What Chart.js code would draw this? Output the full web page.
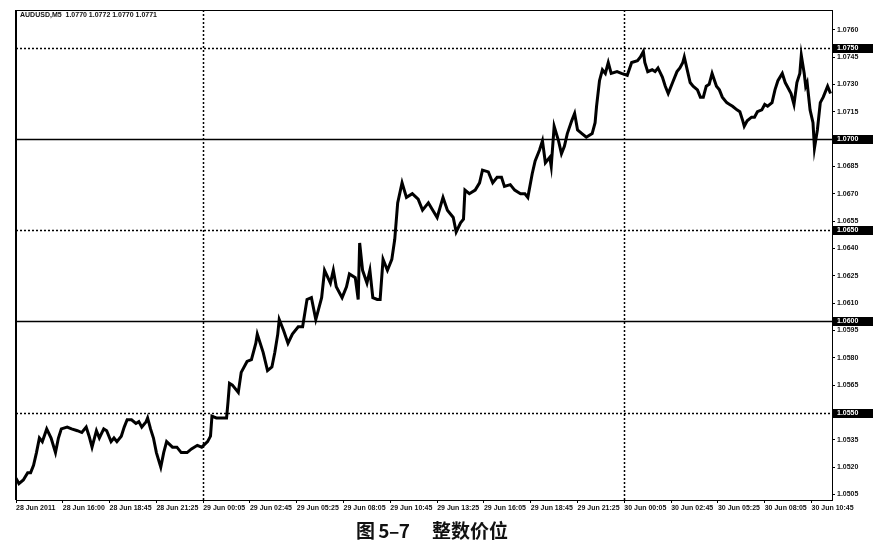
<!DOCTYPE html>
<html>
<head>
<meta charset="utf-8">
<script src="https://cdn.jsdelivr.net/npm/chart.js@4"></script>
<style>
  html, body { margin: 0; padding: 0; background: #fff; }
  #wrap { position: relative; width: 877px; height: 546px; }
  .cap {
    position: absolute; top: 519px;
    font: bold 19px "Noto Sans CJK SC", sans-serif; line-height: 22px;
    color: #111; white-space: pre;
  }
  #fig { left: 356px; letter-spacing: -0.5px; }
  #title { left: 432px; }
</style>
</head>
<body>
<div id="wrap">
  <canvas id="chart" width="877" height="546"></canvas>
  <div class="cap" id="fig">图 5–7</div>
  <div class="cap" id="title">整数价位</div>
</div>
<script>
// M5 bar number (counted from the first bar on screen) and close price
const bars = [
  0, 2, 5, 8, 10, 12, 14, 16, 18, 21,
  24, 27, 29, 31, 35, 38, 42, 45, 48, 50,
  52, 55, 57, 60, 62, 65, 67, 69, 72, 74,
  76, 79, 82, 84, 86, 89, 90, 92, 94, 96,
  99, 101, 103, 107, 110, 113, 117, 120, 124, 127,
  131, 133, 134, 137, 140, 144, 145, 146, 148, 152,
  154, 158, 161, 164, 165, 169, 172, 175, 177, 179,
  180, 183, 186, 189, 193, 196, 199, 202, 205, 206,
  209, 211, 215, 217, 219, 223, 226, 228, 232, 234,
  235, 237, 240, 242, 244, 247, 249, 251, 254, 257,
  259, 261, 264, 267, 271, 275, 278, 282, 285, 288,
  292, 295, 299, 301, 304, 306, 307, 310, 314, 317,
  319, 323, 326, 329, 332, 334, 338, 341, 345, 348,
  350, 353, 355, 358, 360, 362, 365, 366, 368, 371,
  373, 375, 377, 380, 382, 384, 387, 390, 394, 396,
  397, 399, 401, 403, 405, 407, 411, 414, 418, 421,
  425, 427, 429, 430, 432, 435, 437, 439, 442, 444,
  446, 447, 449, 452, 454, 456, 457, 459, 461, 463,
  466, 468, 470, 472, 474, 476, 479, 481, 483, 486,
  488, 490, 493, 495, 497, 498, 500, 503, 505, 507,
  510, 512, 514, 517, 519, 521, 524, 526, 528, 530,
  532, 534, 536, 537, 539, 540, 541, 543, 545, 546,
  548, 550, 552, 555, 557
];
const closes = [
  1.0514, 1.0511, 1.0513, 1.0517, 1.0517, 1.0521, 1.0528, 1.0536, 1.0534, 1.0541,
  1.0536, 1.0528, 1.0536, 1.0541, 1.0542, 1.0541, 1.0540, 1.0539, 1.0542, 1.0537,
  1.0531, 1.0540, 1.0536, 1.0541, 1.0540, 1.0534, 1.0536, 1.0534, 1.0537, 1.0542,
  1.0546, 1.0546, 1.0544, 1.0545, 1.0542, 1.0545, 1.0547, 1.0541, 1.0536, 1.0528,
  1.0520, 1.0528, 1.0534, 1.0531, 1.0531, 1.0528, 1.0528, 1.0530, 1.0532, 1.0531,
  1.0534, 1.0537, 1.0548, 1.0547, 1.0547, 1.0547, 1.0556, 1.0566, 1.0565, 1.0561,
  1.0572, 1.0578, 1.0579, 1.0588, 1.0593, 1.0583, 1.0573, 1.0575, 1.0583, 1.0593,
  1.0601, 1.0595, 1.0588, 1.0593, 1.0597, 1.0597, 1.0612, 1.0613, 1.0601, 1.0604,
  1.0613, 1.0628, 1.0621, 1.0628, 1.0619, 1.0613, 1.0619, 1.0626, 1.0624, 1.0612,
  1.0643, 1.0628, 1.0621, 1.0628, 1.0613, 1.0612, 1.0612, 1.0634, 1.0628, 1.0634,
  1.0645, 1.0665, 1.0676, 1.0668, 1.0670, 1.0667, 1.0661, 1.0665, 1.0661, 1.0657,
  1.0668, 1.0661, 1.0657, 1.0649, 1.0654, 1.0656, 1.0672, 1.0670, 1.0672, 1.0676,
  1.0683, 1.0682, 1.0676, 1.0679, 1.0679, 1.0674, 1.0675, 1.0672, 1.0670, 1.0670,
  1.0668, 1.0681, 1.0688, 1.0694, 1.0699, 1.0687, 1.0690, 1.0685, 1.0707, 1.0699,
  1.0692, 1.0696, 1.0703, 1.0710, 1.0714, 1.0705, 1.0703, 1.0701, 1.0703, 1.0709,
  1.0718, 1.0732, 1.0738, 1.0736, 1.0742, 1.0736, 1.0737, 1.0736, 1.0735, 1.0742,
  1.0743, 1.0745, 1.0748, 1.0742, 1.0737, 1.0738, 1.0737, 1.0739, 1.0734, 1.0729,
  1.0725, 1.0727, 1.0731, 1.0737, 1.0739, 1.0742, 1.0745, 1.0738, 1.0731, 1.0729,
  1.0727, 1.0723, 1.0723, 1.0729, 1.0730, 1.0736, 1.0729, 1.0727, 1.0723, 1.0720,
  1.0719, 1.0718, 1.0716, 1.0715, 1.0710, 1.0707, 1.0710, 1.0712, 1.0712, 1.0715,
  1.0716, 1.0719, 1.0718, 1.0720, 1.0727, 1.0732, 1.0736, 1.0731, 1.0728, 1.0725,
  1.0719, 1.0731, 1.0736, 1.0746, 1.0736, 1.0729, 1.0731, 1.0716, 1.0709, 1.0695,
  1.0705, 1.0720, 1.0723, 1.0729, 1.0725
];

// time axis labels, one every 32 bars
const timeLabels = [
  "28 Jun 2011", "28 Jun 16:00", "28 Jun 18:45", "28 Jun 21:25", "29 Jun 00:05",
  "29 Jun 02:45", "29 Jun 05:25", "29 Jun 08:05", "29 Jun 10:45", "29 Jun 13:25",
  "29 Jun 16:05", "29 Jun 18:45", "29 Jun 21:25", "30 Jun 00:05", "30 Jun 02:45",
  "30 Jun 05:25", "30 Jun 08:05", "30 Jun 10:45"
];
const priceTicks = [
  1.0505, 1.0520, 1.0535, 1.0550, 1.0565, 1.0580, 1.0595, 1.0610, 1.0625,
  1.0640, 1.0655, 1.0670, 1.0685, 1.0715, 1.0730, 1.0745, 1.0760
];
// round-number levels drawn on the chart
const levels = [1.0750, 1.0700, 1.0650, 1.0600, 1.0550];
const header = "AUDUSD,M5  1.0770 1.0772 1.0770 1.0771";

const barsPerLabel = 32;
const totalBars = 558;

const isRound = v => Math.round(v * 10000) % 100 === 0;

const mt4Plugin = {
  id: "mt4",
  beforeDatasetsDraw(chart) {
    const { ctx, chartArea: a, scales } = chart;
    ctx.save();
    ctx.strokeStyle = "#000";
    // day separators
    ctx.lineWidth = 1.5;
    ctx.setLineDash([2, 2]);
    timeLabels.forEach((t, i) => {
      if (t.indexOf("00:05") < 0) return;
      const x = Math.round(scales.x.getPixelForValue(i * barsPerLabel)) + 0.5;
      ctx.beginPath();
      ctx.moveTo(x, a.top);
      ctx.lineTo(x, a.bottom);
      ctx.stroke();
    });
    // levels
    levels.forEach(v => {
      const y = Math.round(scales.y.getPixelForValue(v)) + 0.5;
      ctx.setLineDash(isRound(v) ? [] : [2, 2]);
      ctx.lineWidth = isRound(v) ? 1.3 : 1.5;
      ctx.beginPath();
      ctx.moveTo(a.left, y);
      ctx.lineTo(a.right, y);
      ctx.stroke();
    });
    ctx.restore();
  },
  afterDraw(chart) {
    const { ctx, chartArea: a, scales } = chart;
    ctx.save();
    ctx.strokeStyle = "#000";
    ctx.lineWidth = 1;
    ctx.strokeRect(a.left + 0.5, a.top + 0.5, a.right - a.left, a.bottom - a.top);
    ctx.lineWidth = 2;
    ctx.beginPath();
    ctx.moveTo(a.left, a.top);
    ctx.lineTo(a.left, a.bottom);
    ctx.stroke();

    ctx.fillStyle = "#111";
    ctx.font = "bold 7px 'Liberation Sans', Arial, sans-serif";
    ctx.textBaseline = "middle";
    ctx.fillText(header, a.left + 4, a.top + 5);

    levels.forEach(v => {
      const y = Math.round(scales.y.getPixelForValue(v));
      ctx.fillStyle = "#000";
      ctx.fillRect(a.right + 1, y - 4, 40, 9);
      ctx.fillStyle = "#fff";
      ctx.textAlign = "left";
      ctx.fillText(v.toFixed(4), a.right + 5, y + 0.5);
    });
    ctx.restore();
  }
};

new Chart(document.getElementById("chart"), {
  type: "line",
  data: {
    datasets: [{
      label: "AUDUSD,M5",
      data: bars.map((b, i) => ({ x: b, y: closes[i] })),
      borderColor: "#000",
      borderWidth: 3,
      pointRadius: 0,
      tension: 0,
      borderJoinStyle: "miter"
    }]
  },
  options: {
    responsive: false,
    animation: false,
    layout: { padding: { left: 16, top: 10, right: 0, bottom: 0 } },
    plugins: { legend: { display: false }, tooltip: { enabled: false } },
    scales: {
      x: {
        type: "linear",
        min: 0,
        max: totalBars,
        border: { display: false },
        grid: { drawOnChartArea: false, drawTicks: true, tickLength: 3, color: "#000" },
        afterBuildTicks: s => { s.ticks = timeLabels.map((_, i) => ({ value: i * barsPerLabel })); },
        afterFit: s => { s.height = 46; },
        ticks: {
          autoSkip: false,
          maxRotation: 0,
          align: "start",
          padding: 1,
          color: "#111",
          font: { family: "'Liberation Sans', Arial, sans-serif", size: 7, weight: "bold" },
          callback: (v, i) => timeLabels[i]
        }
      },
      y: {
        position: "right",
        min: 1.0502,
        max: 1.07708,
        border: { display: false },
        grid: { drawOnChartArea: false, drawTicks: true, tickLength: 3, color: "#000" },
        afterBuildTicks: s => { s.ticks = priceTicks.map(v => ({ value: v })); },
        afterFit: s => { s.width = 45; },
        ticks: {
          padding: 2,
          color: "#111",
          font: { family: "'Liberation Sans', Arial, sans-serif", size: 7, weight: "bold" },
          callback: v => v.toFixed(4)
        }
      }
    }
  },
  plugins: [mt4Plugin]
});
</script>
</body>
</html>
